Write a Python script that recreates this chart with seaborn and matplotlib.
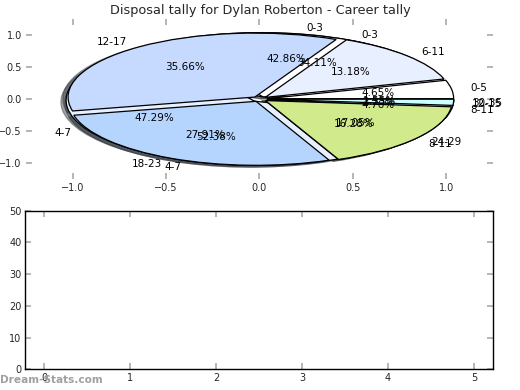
import matplotlib
matplotlib.use("Agg")
import matplotlib.pyplot as plt
import seaborn as sns

title = "Disposal tally for Dylan Roberton - Career tally"

# disposals per game, career buckets
bands_a = ["0-5", "6-11", "12-17", "18-23", "24-29", "30-35"]
pct_a = [4.65, 13.18, 35.66, 27.91, 17.05, 1.55]

# second tally (kicks?)
bands_b = ["0-3", "4-7", "8-11", "12-15"]
pct_b = [34.11, 47.29, 16.28, 2.33]

# third tally
bands_c = ["0-3", "4-7", "8-11"]
pct_c = [42.86, 52.38, 4.76]

palette = ["#ffffff", "#e8f0ff", "#c6d9ff", "#b5d5ff", "#d1eb8c", "#ccffff"]

sns.set_theme(style="white")
plt.rcParams["font.family"] = ["DejaVu Sans"]

fig = plt.figure(figsize=(5.2, 3.9), dpi=100)
ax1 = fig.add_axes([0.05, 0.541, 0.898, 0.41])
ax2 = fig.add_axes([0.049, 0.053, 0.899, 0.407])

# draw the pies on top of each other, last one ends up on top
for bands, pct in [(bands_c, pct_c), (bands_b, pct_b), (bands_a, pct_a)]:
    ax1.pie(pct, labels=bands, colors=palette[:len(pct)],
            explode=[0.04] * len(pct), shadow=True, autopct="%1.2f%%",
            frame=True, textprops={"fontsize": 7.5, "color": "black"},
            wedgeprops={"linewidth": 0.9, "edgecolor": "black"})

ax1.set_aspect("auto")
ax1.set_frame_on(False)
ax1.set_xlim(-1.25, 1.25)
ax1.set_ylim(-1.25, 1.25)
ax1.set_xticks([-1.0, -0.5, 0.0, 0.5, 1.0])
ax1.set_yticks([-1.0, -0.5, 0.0, 0.5, 1.0])
ax1.tick_params(direction="in", length=4, width=1.3, color="#b0b0b0",
                top=True, right=True, bottom=True, left=True,
                labelsize=7, pad=3)

ax2.set_xlim(-0.22, 5.22)
ax2.set_ylim(0, 50)
ax2.set_xticks(range(6))
ax2.set_yticks(range(0, 51, 10))
ax2.tick_params(direction="in", length=4, width=1.3, color="#b0b0b0",
                top=True, right=True, bottom=True, left=True,
                labelsize=7, pad=3)
for s in ax2.spines.values():
    s.set_visible(True)
    s.set_color("black")
    s.set_linewidth(1)

fig.text(0.5, 0.974, title, ha="center", va="center", fontsize=9.3)
fig.text(0.0, 0.026, "Dream-Stats.com", ha="left", va="center",
         fontsize=7.6, color="#a0a0a0", fontweight="bold")

fig.savefig("out.png", dpi=100)
